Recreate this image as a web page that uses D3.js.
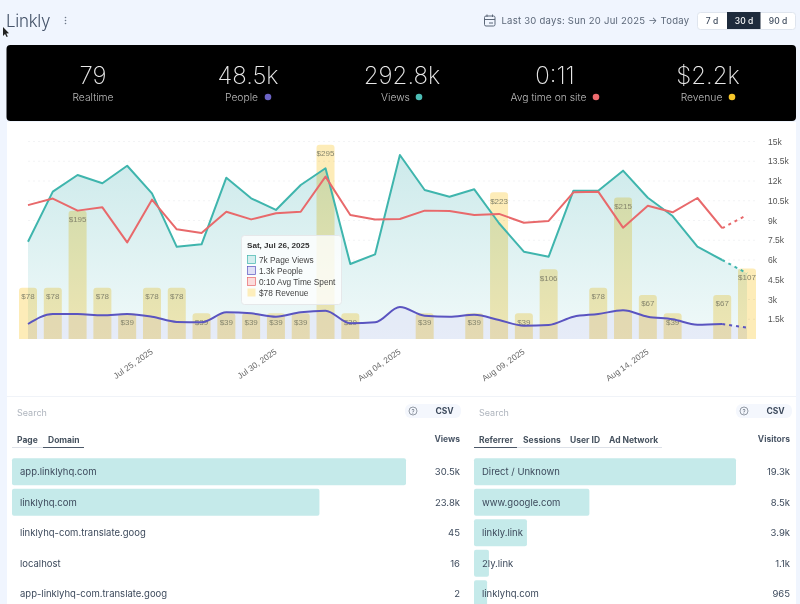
<!DOCTYPE html>
<html>
<head>
<meta charset="utf-8">
<script src="https://cdn.jsdelivr.net/npm/d3@7"></script>
<style>
  html, body { margin: 0; padding: 0; background: #fff; overflow: hidden; }
  svg { display: block; font-family: Inter, sans-serif; }
</style>
</head>
<body>
<div id="chart"></div>
<script>
const pageViews = [7390, 11190, 12455, 11825, 13160, 11065, 7000, 7190, 12250, 10685, 9800, 11695, 12965, 5695, 6430, 13975, 11315, 10810, 11370, 8790, 6630, 6250, 11265, 11265, 12785, 10730, 9340, 7010, 6000, 4990];
const people = [1140, 1900, 1900, 1800, 1900, 1695, 1300, 1270, 2025, 1950, 1695, 2030, 2150, 1190, 1270, 2430, 1770, 1695, 1845, 1440, 1010, 1065, 1695, 1900, 2180, 1695, 1495, 1085, 1140, 860];
const avgSeconds = [12.2, 12.8, 11.7, 12, 8.8, 12.7, 10, 9.66, 11.6, 10.9, 11.46, 11.6, 14.8, 11.3, 10.9, 10.94, 11.7, 11.67, 11.3, 11.4, 10.6, 10.76, 13.37, 13.43, 10.15, 12.15, 11.55, 12.85, 10.1, 11.3];
const revenue = [78, 78, 195, 78, 39, 78, 78, 39, 39, 39, 39, 39, 295, 39, 0, 0, 39, 0, 39, 223, 39, 106, 0, 78, 215, 67, 39, 0, 67, 107];
const yTicks = [1500, 3000, 4500, 6000, 7500, 9000, 10500, 12000, 13500, 15000];
const dateTicks = ["2025-07-25", "2025-07-30", "2025-08-04", "2025-08-09", "2025-08-14"];
const firstDay = "2025-07-20";
const kpiValues = ["79", "48.5k", "292.8k", "0:11", "$2.2k"];
const kpiLabels = ["Realtime", "People", "Views", "Avg time on site", "Revenue"];
const kpiDots = [null, "#6b63c4", "#4dbdb5", "#ee6b6e", "#f6c629"];
const tooltipRows = ["7k Page Views", "1.3k People", "0:10 Avg Time Spent", "$78 Revenue"];
const domains = ["app.linklyhq.com", "linklyhq.com", "linklyhq-com.translate.goog", "localhost", "app-linklyhq-com.translate.goog"];
const domainViews = [30500, 23800, 45, 16, 2];
const domainLabels = ["30.5k", "23.8k", "45", "16", "2"];
const referrers = ["Direct / Unknown", "www.google.com", "linkly.link", "2ly.link", "linklyhq.com"];
const referrerVisitors = [19300, 8500, 3900, 1100, 965];
const referrerLabels = ["19.3k", "8.5k", "3.9k", "1.1k", "965"];

const width = 800, height = 604;
const svg = d3.select("#chart").append("svg").attr("width", width).attr("height", height);
const defs = svg.append("defs");

const TEAL = "#3fb5ad", RED = "#e8696b", PURPLE = "#5a54c0";
const INK = "#3d4a5c";

// page frame
svg.append("rect").attr("width", width).attr("height", height).attr("fill", "#f0f5fe");
svg.append("rect").attr("x", 7).attr("y", 122).attr("width", 789).attr("height", 482).attr("fill", "#fff");

// header
svg.append("text").attr("x", 6).attr("y", 26.5).attr("font-size", 17).attr("letter-spacing", -0.3).attr("font-weight", 300).attr("fill", "#46546a").text("Linkly");
svg.append("g").selectAll("circle").data([-3, 0, 3]).join("circle")
    .attr("cx", 65.5).attr("cy", d => 20.5 + d).attr("r", 0.8).attr("fill", "#6d7889");
svg.append("path").attr("d", "M3 27l0 9 2-2 1.6 3 1.2-.6-1.5-3 2.7-.2z").attr("fill", "#222");

// date range
const cal = svg.append("g").attr("fill", "none").attr("stroke", "#5b6778").attr("stroke-width", 1);
cal.append("rect").attr("x", 484.5).attr("y", 16).attr("width", 10.5).attr("height", 10).attr("rx", 1.5);
cal.append("path").attr("d", "M484.5 19.5h10.5M487 14.5v2.5M492.5 14.5v2.5M489 23h4");
svg.append("text").attr("x", 501.5).attr("y", 24).attr("font-size", 9.5).attr("letter-spacing", 0.25).attr("fill", "#5b6778")
    .text("Last 30 days: Sun 20 Jul 2025 → Today");
svg.append("rect").attr("x", 697.5).attr("y", 12.5).attr("width", 98).attr("height", 17).attr("rx", 3)
    .attr("fill", "#fff").attr("stroke", "#dfe5ee");
svg.append("rect").attr("x", 727).attr("y", 12).attr("width", 33.5).attr("height", 17).attr("fill", "#1e2b3c");
svg.append("g").selectAll("text").data([["7 d", 712, "#3d4a5c"], ["30 d", 744, "#fff"], ["90 d", 778, "#3d4a5c"]]).join("text")
    .attr("x", d => d[1]).attr("y", 23.5).attr("text-anchor", "middle").attr("font-size", 8.5).attr("font-weight", 500)
    .attr("fill", d => d[2]).text(d => d[0]);

// KPI band
svg.append("rect").attr("x", 6.5).attr("y", 45).attr("width", 789.5).attr("height", 76).attr("rx", 4).attr("fill", "#000");
const kpiCentre = [93, 248, 402, 555, 708];
const kpi = svg.append("g").selectAll("g").data(kpiValues).join("g");
kpi.append("text").attr("x", (d, i) => kpiCentre[i]).attr("y", 83.5).attr("text-anchor", "middle")
    .attr("font-size", 24).attr("font-weight", 200).attr("fill", "#e8e8e8").text(d => d);
kpi.append("text").attr("x", (d, i) => kpiCentre[i] - (kpiDots[i] ? 6.5 : 0)).attr("y", 100.5).attr("text-anchor", "middle")
    .attr("font-size", 10.3).attr("font-weight", 300).attr("fill", "#bdbdbd").text((d, i) => kpiLabels[i]);
const dotX = [0, 268, 419, 596, 732];
kpi.filter((d, i) => kpiDots[i]).append("circle")
    .attr("cx", d => dotX[kpiValues.indexOf(d)]).attr("cy", 97).attr("r", 3.3)
    .attr("fill", d => kpiDots[kpiValues.indexOf(d)]);

// main chart scales
const days = d3.utcDay.range(new Date(firstDay), d3.utcDay.offset(new Date(firstDay), pageViews.length));
const x = d3.scaleUtc().domain([days[0], days[days.length - 1]]).range([28, 747]);
const y = d3.scaleLinear().domain([0, 15000]).range([339, 141.5]);
const yTime = d3.scaleLinear().domain([0, 18]).range([339, 141.5]);
const yRevenue = d3.scaleLinear().domain([0, 300]).range([339, 141.5]);

// grid
svg.append("g").selectAll("line").data(yTicks).join("line")
    .attr("x1", 28).attr("x2", 757).attr("y1", d => y(d)).attr("y2", d => y(d))
    .attr("stroke", "#f2f3f5").attr("stroke-dasharray", "2 3");

// areas
const viewsGrad = defs.append("linearGradient").attr("id", "viewsGrad").attr("x1", 0).attr("x2", 0).attr("y1", 0).attr("y2", 1);
viewsGrad.append("stop").attr("offset", "0%").attr("stop-color", "#cdeaeb");
viewsGrad.append("stop").attr("offset", "100%").attr("stop-color", "#f0f9f9");
const area = d3.area().x((d, i) => x(days[i])).y0(339);
svg.append("path").datum(pageViews).attr("fill", "url(#viewsGrad)").attr("d", area.y1(d => y(d)));
svg.append("path").datum(people).attr("fill", "#dfe3f6").attr("fill-opacity", 0.6).attr("d", area.y1(d => y(d)));

// revenue bars
const bars = svg.append("g").selectAll("g")
    .data(revenue.map((v, i) => ({v, day: days[i]})).filter(d => d.v > 0)).join("g");
bars.append("path")
    .style("mix-blend-mode", "multiply")
    .attr("fill", "#fdecb8")
    .attr("d", d => {
      const x0 = x(d.day) - 9, w = 18, top = yRevenue(d.v), r = 3;
      return `M${x0} 339V${top + r}Q${x0} ${top} ${x0 + r} ${top}H${x0 + w - r}Q${x0 + w} ${top} ${x0 + w} ${top + r}V339Z`;
    });
bars.append("text").attr("x", d => x(d.day)).attr("y", d => yRevenue(d.v) + 11.5)
    .attr("text-anchor", "middle").attr("font-family", "Liberation Sans").attr("font-size", 8)
    .attr("fill", "#85856d").text(d => "$" + d.v);

// lines: the last day is still in progress, so it is dashed
function drawLine(values, scale, color, curve) {
  const line = d3.line().curve(curve).x(d => x(d.day)).y(d => scale(d.v));
  const pts = values.map((v, i) => ({v, day: days[i]}));
  const g = svg.append("g").attr("fill", "none").attr("stroke", color).attr("stroke-linejoin", "round");
  g.append("path").attr("stroke-width", 2).attr("d", line(pts.slice(0, -1)));
  g.append("path").attr("stroke-width", 2).attr("stroke-dasharray", "3 4").attr("d", line(pts.slice(-2)));
}
drawLine(pageViews, y, TEAL, d3.curveLinear);
drawLine(avgSeconds, yTime, RED, d3.curveLinear);
drawLine(people, y, PURPLE, d3.curveMonotoneX);

// axes
const yAxis = svg.append("g").attr("transform", "translate(757,0)")
    .call(d3.axisRight(y).tickValues(yTicks).tickSize(0).tickPadding(11).tickFormat(d => d / 1000 + "k"));
yAxis.select(".domain").remove();
yAxis.selectAll("text").attr("font-family", "Liberation Sans").attr("font-size", 8.5).attr("fill", "#555");

const xAxis = svg.append("g").attr("transform", "translate(0,339)")
    .call(d3.axisBottom(x).tickValues(dateTicks.map(d => new Date(d))).tickSize(0).tickFormat(d3.utcFormat("%b %d, %Y")));
xAxis.select(".domain").remove();
xAxis.selectAll("text").attr("font-family", "Liberation Sans").attr("font-size", 8.4).attr("fill", "#666")
    .attr("text-anchor", "end").attr("dy", 0).attr("y", 0)
    .attr("transform", "translate(1,14) rotate(-35)");

// tooltip
const tip = svg.append("g");
tip.append("rect").attr("x", 241.5).attr("y", 235.5).attr("width", 100).attr("height", 69).attr("rx", 3)
    .attr("fill", "#fff").attr("fill-opacity", 0.78).attr("stroke", "#e6e8ea");
tip.append("text").attr("x", 247).attr("y", 248).attr("font-family", "Liberation Sans").attr("font-size", 8.1)
    .attr("font-weight", 700).attr("fill", "#333").text("Sat, Jul 26, 2025");
const swatches = [[TEAL, "#d3eeee"], [PURPLE, "#dfe0f6"], [RED, "#fbdcdc"], ["none", "#fdeebc"]];
const tipRow = tip.append("g").selectAll("g").data(tooltipRows).join("g")
    .attr("transform", (d, i) => `translate(0,${259.5 + i * 11})`);
tipRow.append("rect").attr("x", 247.5).attr("y", -4).attr("width", 8).attr("height", 8)
    .attr("fill", (d, i) => swatches[i][1]).attr("stroke", (d, i) => swatches[i][0]).attr("stroke-width", 0.7);
tipRow.append("text").attr("x", 259).attr("y", 3).attr("font-family", "Liberation Sans").attr("font-size", 8.3)
    .attr("fill", "#444").text(d => d);

// lower tables
svg.append("line").attr("x1", 7).attr("x2", 796).attr("y1", 396.5).attr("y2", 396.5).attr("stroke", "#f0f3f8");

function table(opts) {
  const g = svg.append("g");
  g.append("rect").attr("x", opts.helpX - 8).attr("y", 404).attr("width", 56).attr("height", 14).attr("rx", 6).attr("fill", "#f4f7fd");
  g.append("text").attr("x", opts.left + 5).attr("y", 416).attr("font-size", 9).attr("fill", "#aeb4bd").text("Search");
  g.append("circle").attr("cx", opts.helpX).attr("cy", 411).attr("r", 4).attr("fill", "none").attr("stroke", "#68727f").attr("stroke-width", 0.7);
  g.append("text").attr("x", opts.helpX).attr("y", 413.5).attr("text-anchor", "middle").attr("font-size", 6).attr("fill", "#68727f").text("?");
  g.append("text").attr("x", opts.helpX + 31.5).attr("y", 414).attr("text-anchor", "middle").attr("font-size", 8.5).attr("font-weight", 700).attr("fill", INK).text("CSV");
  g.append("text").attr("x", opts.right).attr("y", 442).attr("text-anchor", "end").attr("font-size", 8.5).attr("font-weight", 700).attr("fill", "#4c5868").text(opts.metric);

  g.append("line").attr("x1", opts.left).attr("x2", opts.tabEnd).attr("y1", 447.5).attr("y2", 447.5).attr("stroke", "#dde1e8");
  g.append("line").attr("x1", opts.active[0]).attr("x2", opts.active[1]).attr("y1", 447.5).attr("y2", 447.5).attr("stroke", "#4c5868").attr("stroke-width", 1.2);
  g.selectAll(".tab").data(opts.tabs).join("text").attr("class", "tab")
      .attr("x", d => d[1]).attr("y", 443).attr("font-size", 8.5).attr("font-weight", 700).attr("fill", "#46525f").text(d => d[0]);

  const w = d3.scaleLinear().domain([0, opts.values[0]]).range([0, opts.barMax]);
  const row = d3.scalePoint().domain(opts.names).range([471.7, 593.7]);
  const rows = g.selectAll(".row").data(opts.names).join("g").attr("class", "row")
      .attr("transform", d => `translate(0,${row(d)})`);
  rows.append("rect").attr("x", opts.left).attr("y", -13.5).attr("height", 27).attr("rx", 2)
      .attr("width", (d, i) => w(opts.values[i]) > 5 ? w(opts.values[i]) : 0).attr("fill", "#c5eaea");
  rows.append("text").attr("x", opts.left + 8).attr("y", 3.5).attr("font-size", 9.5).attr("fill", INK).text(d => d);
  rows.append("text").attr("x", opts.right).attr("y", 3.5).attr("text-anchor", "end").attr("font-size", 9.5).attr("fill", INK)
      .text((d, i) => opts.labels[i]);
}

table({
  left: 12, right: 460, helpX: 413, metric: "Views", tabEnd: 84, active: [43, 84], barMax: 394,
  tabs: [["Page", 17], ["Domain", 48]],
  names: domains, values: domainViews, labels: domainLabels
});
table({
  left: 474, right: 790, helpX: 744, metric: "Visitors", tabEnd: 662, active: [474, 517], barMax: 262,
  tabs: [["Referrer", 479], ["Sessions", 523], ["User ID", 570], ["Ad Network", 609]],
  names: referrers, values: referrerVisitors, labels: referrerLabels
});
</script>
</body>
</html>
